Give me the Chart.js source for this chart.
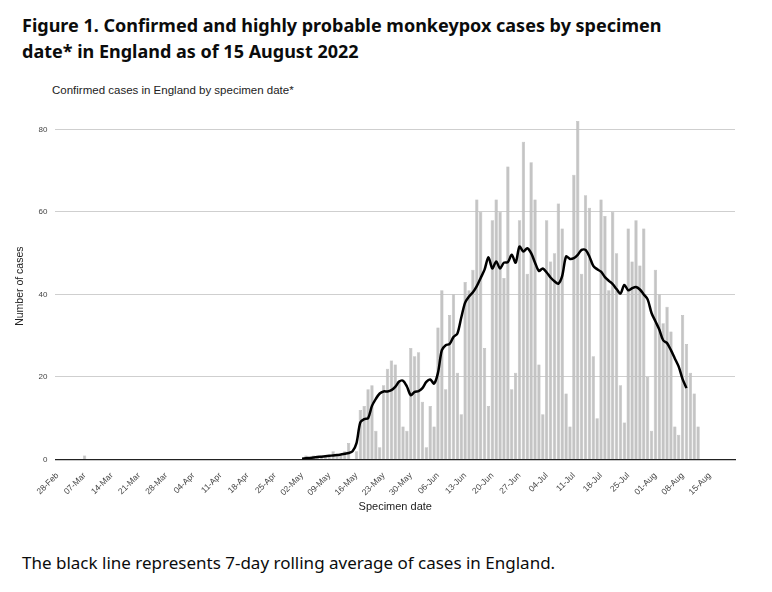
<!DOCTYPE html>
<html>
<head>
<meta charset="utf-8">
<script src="https://cdn.jsdelivr.net/npm/chart.js@4"></script>
<style>
  body { margin: 0; background: #fff; font-family: "Noto Sans", Arial, sans-serif; }
  h1 { position: absolute; left: 22px; top: 12px; margin: 0; font-size: 18px; line-height: 26px; font-weight: 700; color: #0b0c0c; width: 690px; }
  #sub { position: absolute; left: 52px; top: 84px; font-family: "Liberation Sans", Arial, sans-serif; font-size: 11.5px; color: #222; }
  #wrap { position: absolute; left: 10px; top: 100px; width: 735px; height: 418px; }
  p { position: absolute; left: 22px; top: 551px; margin: 0; font-size: 17px; color: #0b0c0c; }
</style>
</head>
<body>
<h1>Figure 1. Confirmed and highly probable monkeypox cases by specimen date* in England as of 15 August 2022</h1>
<div id="sub">Confirmed cases in England by specimen date*</div>
<div id="wrap"><canvas id="myChart"></canvas></div>
<p>The black line represents 7-day rolling average of cases in England.</p>
<script>
// cases per specimen date, 28-Feb .. 01-May
var casesEarly = [0,0,0,0,0,0,0,1,0,0,0,0,0,0,0,0,0,0,0,0,0,0,0,0,0,0,0,0,0,0,0,0,
    0,0,0,0,0,0,0,0,0,0,0,0,0,0,0,0,0,0,0,0,0,0,0,0,0,0,0,0,0,0,0];
// 02-May .. 12-Aug
var casesMay = [0,1,0,1,1,1,1,1,2,1,1,2,4,0, 2,12,13,17,18,7,3,18,22,24,23,19,8,7,27,25];
var casesJun = [26,14,3,13,8,32,41,17,35,40,21,11,43,41,46,63,60,27,13,58,63,60,44,71,17,21,58,77,45,72];
var casesJul = [63,23,11,58,48,50,62,56,16,8,69,82,45,64,61,25,10,63,59,41,60,50,18,9,56,48,58,47,56,20,7];
var casesAug = [46,40,33,37,31,8,6,35,28,21,16,8];

// 7-day rolling average as drawn, 02-May .. 09-Aug
var avgMay = [0.2,0.3,0.4,0.5,0.6,0.7,0.8,0.9,1,1.1,1.2,1.4,1.6,2, 3.9,9,9.8,10,13,14.7,16,16.5,16.5,16.8,17.6,18.9,19.1,17.7,15.6,16.4];
var avgJun = [16.6,17.3,18.8,19.4,18.4,21,26.5,27.7,28,29.7,30.5,34.4,38,39.5,40.5,42,44,46,49,46.3,48,46.3,47.7,47.8,49.6,47.7,51.6,50.4,51.2,50];
var avgJul = [47.7,45.7,46.3,45.3,44.1,43.2,42.6,44.5,49.2,48.6,48.8,49.6,50.8,50.8,49.2,46.9,46.1,45.5,44.2,43.3,42.5,41.3,40.2,42.3,41,41.5,41.8,41.2,40,38.8,35.5];
var avgAug = [33.5,31.5,28.9,28.2,26.5,24.5,22.5,19.5,17.3];

var months = ['Jan','Feb','Mar','Apr','May','Jun','Jul','Aug','Sep','Oct','Nov','Dec'];
var labels = [];
var d = new Date(2022, 1, 28);
for (var i = 0; i < 175; i++) {
    labels.push(String(d.getDate()).padStart(2, '0') + '-' + months[d.getMonth()]);
    d.setDate(d.getDate() + 1);
}

var cases = casesEarly.concat(casesMay, casesJun, casesJul, casesAug);
var avg = [];
for (var i = 0; i < casesEarly.length; i++) avg.push(null);
avg = avg.concat(avgMay, avgJun, avgJul, avgAug);

var ctx = document.getElementById('myChart').getContext('2d');
new Chart(ctx, {
    data: {
        labels: labels,
        datasets: [{
            type: 'line',
            data: avg,
            borderColor: '#000',
            borderWidth: 2.5,
            pointRadius: 0,
            tension: 0.3,
            order: 0
        }, {
            type: 'bar',
            data: cases,
            backgroundColor: '#c4c4c4',
            borderColor: '#b0b0b0',
            borderWidth: 0.5,
            barPercentage: 0.85,
            categoryPercentage: 1,
            order: 1
        }]
    },
    options: {
        responsive: true,
        maintainAspectRatio: false,
        animation: false,
        layout: { padding: { right: 10, top: 10 } },
        plugins: {
            legend: { display: false },
            tooltip: { enabled: false }
        },
        scales: {
            x: {
                grid: { display: false, drawTicks: true, tickColor: '#333' },
                border: { color: '#222', width: 1.2 },
                ticks: {
                    autoSkip: false,
                    maxRotation: 45,
                    minRotation: 45,
                    color: '#444',
                    font: { family: 'Liberation Sans', size: 8.5 },
                    callback: function (v, i) { return i % 7 === 0 ? labels[i] : ''; }
                },
                title: { display: true, text: 'Specimen date', color: '#222', font: { family: 'Liberation Sans', size: 11 }, padding: { top: 0 } }
            },
            y: {
                min: 0,
                max: 84,
                grid: { color: '#cfcfcf', drawTicks: false },
                border: { display: false },
                afterBuildTicks: function (s) { s.ticks = [0,20,40,60,80].map(function (v) { return { value: v }; }); },
                ticks: { color: '#444', font: { family: 'Liberation Sans', size: 8 }, padding: 8 },
                title: { display: true, text: 'Number of cases', color: '#222', font: { family: 'Liberation Sans', size: 10.5 } }
            }
        }
    }
});
</script>
</body>
</html>
